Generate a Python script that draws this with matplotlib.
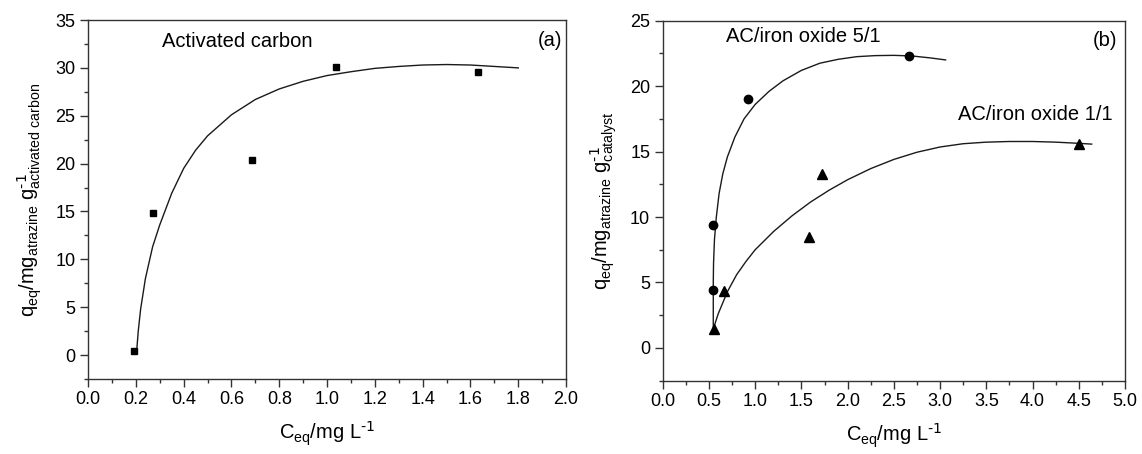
import numpy as np
import matplotlib
matplotlib.use("Agg")
import matplotlib.pyplot as plt
from matplotlib.ticker import MultipleLocator

plt.rcParams['font.family'] = ['Liberation Sans', 'DejaVu Sans']
plt.rcParams['mathtext.default'] = 'regular'

# (a) activated carbon - measured points
ac_x = [0.192, 0.272, 0.686, 1.039, 1.630]
ac_y = [0.4, 14.8, 20.4, 30.1, 29.6]
# (a) fitted curve
ac_fit_x = [0.204, 0.21, 0.22, 0.24, 0.27, 0.30, 0.35, 0.40, 0.45, 0.50, 0.60, 0.70,
            0.80, 0.90, 1.00, 1.10, 1.20, 1.30, 1.40, 1.50, 1.60, 1.70, 1.80]
ac_fit_y = [0.6, 2.5, 4.8, 8.0, 11.3, 13.6, 16.9, 19.5, 21.4, 22.9, 25.1, 26.7,
            27.8, 28.6, 29.2, 29.6, 29.95, 30.15, 30.3, 30.35, 30.3, 30.15, 30.0]

# (b) AC/iron oxide 5/1 (circles)
r51_x = [0.547, 0.547, 0.919, 2.667]
r51_y = [9.41, 4.45, 19.03, 22.31]
r51_fit_x = [0.547, 0.547, 0.55, 0.56, 0.58, 0.61, 0.65, 0.70, 0.78, 0.88, 1.0,
             1.15, 1.3, 1.5, 1.7, 1.9, 2.1, 2.3, 2.5, 2.7, 2.9, 3.06]
r51_fit_y = [1.53, 5.0, 6.5, 8.3, 10.0, 11.8, 13.3, 14.6, 16.1, 17.5, 18.6,
             19.6, 20.4, 21.2, 21.75, 22.05, 22.25, 22.33, 22.35, 22.3, 22.15, 22.0]

# (b) AC/iron oxide 1/1 (triangles)
r11_x = [0.555, 0.663, 1.586, 1.726, 4.506]
r11_y = [1.47, 4.37, 8.44, 13.3, 15.57]
r11_fit_x = [0.547, 0.6, 0.7, 0.8, 0.9, 1.0, 1.2, 1.4, 1.6, 1.8, 2.0, 2.25, 2.5,
             2.75, 3.0, 3.25, 3.5, 3.75, 4.0, 4.25, 4.5, 4.64]
r11_fit_y = [1.45, 2.6, 4.3, 5.6, 6.6, 7.5, 8.9, 10.1, 11.15, 12.05, 12.85, 13.7, 14.4,
             14.95, 15.35, 15.6, 15.72, 15.77, 15.77, 15.72, 15.63, 15.57]

spine_c = '#333333'

fig = plt.figure(figsize=(11.42, 4.54), dpi=100)
axA = fig.add_axes([0.0771, 0.1652, 0.4186, 0.7907])
axB = fig.add_axes([0.5803, 0.1615, 0.4048, 0.7930])

for ax in (axA, axB):
    for s in ax.spines.values():
        s.set_color(spine_c)
        s.set_linewidth(1.0)
    ax.tick_params(which='major', direction='out', length=5.5, width=1.0,
                   color=spine_c, labelsize=13, top=False, right=False)
    ax.tick_params(which='minor', direction='out', length=3, width=1.0,
                   color=spine_c, top=False, right=False)
    ax.set_xlabel(r'C$_{eq}$/mg L$^{\text{-1}}$', fontsize=14.5, labelpad=8)

# panel (a)
axA.plot(ac_fit_x, ac_fit_y, color='#1a1a1a', lw=1.0)
axA.plot(ac_x, ac_y, 's', color='black', ms=5)
axA.set_xlim(0, 2.0)
axA.set_ylim(-2.5, 35)
axA.xaxis.set_major_locator(MultipleLocator(0.2))
axA.xaxis.set_minor_locator(MultipleLocator(0.1))
axA.yaxis.set_major_locator(MultipleLocator(5))
axA.yaxis.set_minor_locator(MultipleLocator(2.5))
axA.set_ylabel(r'q$_{eq}$/mg$_{atrazine}$ g$^{\text{-1}}_{activated\ carbon}$',
               fontsize=14.5, labelpad=8)
axA.text(0.155, 0.939, 'Activated carbon', transform=axA.transAxes,
         fontsize=14.5, ha='left', va='center')
axA.text(0.992, 0.942, '(a)', transform=axA.transAxes,
         fontsize=14.5, ha='right', va='center')

# panel (b)
axB.plot(r51_fit_x, r51_fit_y, color='#1a1a1a', lw=1.0)
axB.plot(r11_fit_x, r11_fit_y, color='#1a1a1a', lw=1.0)
axB.plot(r51_x, r51_y, 'o', color='black', ms=6)
axB.plot(r11_x, r11_y, '^', color='black', ms=7)
axB.set_xlim(0, 5.0)
axB.set_ylim(-2.5, 25)
axB.xaxis.set_major_locator(MultipleLocator(0.5))
axB.xaxis.set_minor_locator(MultipleLocator(0.25))
axB.yaxis.set_major_locator(MultipleLocator(5))
axB.yaxis.set_minor_locator(MultipleLocator(2.5))
axB.set_ylabel(r'q$_{eq}$/mg$_{atrazine}$ g$^{\text{-1}}_{catalyst}$',
               fontsize=14.5, labelpad=8)
axB.text(0.138, 0.956, 'AC/iron oxide 5/1', transform=axB.transAxes,
         fontsize=14.5, ha='left', va='center')
axB.text(0.974, 0.738, 'AC/iron oxide 1/1', transform=axB.transAxes,
         fontsize=14.5, ha='right', va='center')
axB.text(0.983, 0.944, '(b)', transform=axB.transAxes,
         fontsize=14.5, ha='right', va='center')

fig.savefig('out.png', dpi=100)
